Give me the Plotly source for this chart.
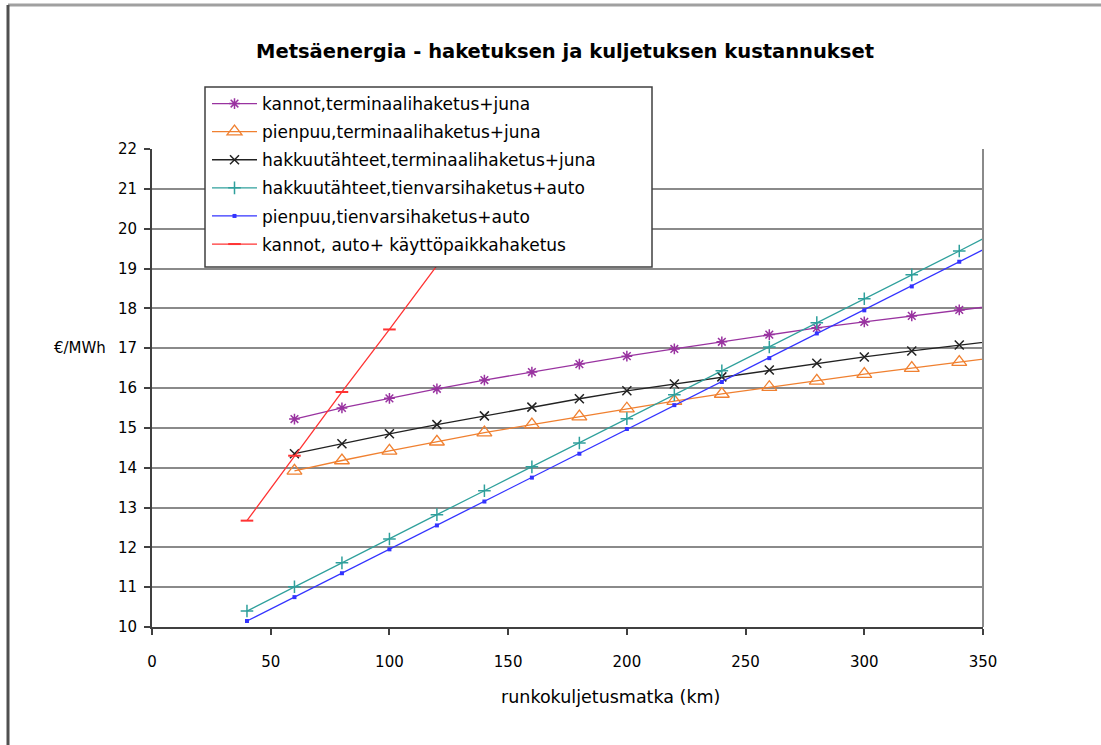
import plotly.graph_objects as go

# Transport distance (km) for each series
dist_terminal = [60, 80, 100, 120, 140, 160, 180, 200, 220, 240, 260, 280, 300, 320, 340, 360]
dist_road = [40, 60, 80, 100, 120, 140, 160, 180, 200, 220, 240, 260, 280, 300, 320, 340, 360]
dist_stumps_truck = [40, 60, 80, 100, 120]

# Costs, €/MWh
kannot_terminaali = [15.22, 15.50, 15.74, 15.98, 16.20, 16.40, 16.60, 16.80, 16.98, 17.16, 17.34, 17.51,
                     17.66, 17.81, 17.96, 18.10]
pienpuu_terminaali = [13.92, 14.18, 14.42, 14.65, 14.88, 15.08, 15.28, 15.48, 15.67, 15.85, 16.02, 16.18,
                      16.35, 16.50, 16.65, 16.80]
hakkuutahteet_terminaali = [14.35, 14.60, 14.85, 15.08, 15.30, 15.52, 15.73, 15.93, 16.10, 16.28, 16.45,
                            16.62, 16.78, 16.93, 17.08, 17.22]
hakkuutahteet_tienvarsi = [10.40, 11.01, 11.61, 12.21, 12.82, 13.42, 14.02, 14.62, 15.23, 15.83, 16.43,
                           17.03, 17.64, 18.24, 18.84, 19.44, 20.05]
pienpuu_tienvarsi = [10.15, 10.75, 11.35, 11.95, 12.55, 13.15, 13.75, 14.35, 14.97, 15.57, 16.15, 16.75,
                     17.37, 17.95, 18.55, 19.17, 19.77]
kannot_kayttopaikka = [12.67, 14.30, 15.90, 17.47, 19.07]

series = [
    ("kannot,terminaalihaketus+juna", dist_terminal, kannot_terminaali, "#9933A0",
     dict(symbol="asterisk-open", size=9, line=dict(width=1.5, color="#9933A0"))),
    ("pienpuu,terminaalihaketus+juna", dist_terminal, pienpuu_terminaali, "#F08030",
     dict(symbol="triangle-up-open", size=13, line=dict(width=1.3, color="#F08030"))),
    ("hakkuutähteet,terminaalihaketus+juna", dist_terminal, hakkuutahteet_terminaali, "#222222",
     dict(symbol="x-thin-open", size=9, line=dict(width=1.5, color="#222222"))),
    ("hakkuutähteet,tienvarsihaketus+auto", dist_road, hakkuutahteet_tienvarsi, "#2FA09C",
     dict(symbol="cross-thin-open", size=9, line=dict(width=1.5, color="#2FA09C"))),
    ("pienpuu,tienvarsihaketus+auto", dist_road, pienpuu_tienvarsi, "#3333FF",
     dict(symbol="square", size=4, color="#3333FF")),
    ("kannot, auto+ käyttöpaikkahaketus", dist_stumps_truck, kannot_kayttopaikka, "#FF3333",
     dict(symbol="line-ew-open", size=9, line=dict(width=2, color="#FF3333"))),
]

fig = go.Figure()
for i, (name, xs, ys, color, marker) in enumerate(series):
    fig.add_trace(go.Scatter(
        x=xs, y=ys, name=name, mode="lines+markers",
        line=dict(color=color, width=1.3),
        marker=marker, cliponaxis=True, legendgroup=f"g{i}",
    ))

# Plot area in pixels: x 152..983, y 149..627
L, R, T, B = 152, 983, 149, 627
W, H = 1101, 745
pw, ph = R - L, B - T


def px(x):
    return (x - L) / pw


def py(y):
    return (B - y) / ph


font = "DejaVu Sans, Verdana, sans-serif"

fig.update_layout(
    width=W, height=H,
    margin=dict(l=L, r=W - R, t=T, b=H - B),
    paper_bgcolor="white", plot_bgcolor="white",
    font=dict(family=font, size=14, color="black"),
    showlegend=True,
    legend=dict(
        x=px(207), y=py(86), xanchor="left", yanchor="top",
        bgcolor="rgba(0,0,0,0)", borderwidth=0,
        font=dict(family=font, size=17, color="black"),
        tracegroupgap=3, traceorder="grouped", itemwidth=45,
    ),
    xaxis=dict(
        range=[0, 350], dtick=50, tick0=0,
        showgrid=False, zeroline=False,
        showline=True, linecolor="#404040", linewidth=2, mirror=False,
        ticks="outside", ticklen=6, tickcolor="#404040", tickwidth=1.5,
        ticklabelstandoff=14,
        tickfont=dict(family=font, size=15, color="black"),
    ),
    yaxis=dict(
        range=[10, 22], dtick=1, tick0=10,
        showgrid=True, gridcolor="#8A8A8A", gridwidth=2,
        zeroline=False,
        showline=True, linecolor="#404040", linewidth=2,
        ticks="outside", ticklen=6, tickcolor="#404040", tickwidth=1.5,
        ticklabelstandoff=4,
        tickfont=dict(family=font, size=15, color="black"),
    ),
)

# Right edge of the plot area and the outer chart frame
fig.add_shape(type="line", xref="paper", yref="paper", x0=1, x1=1, y0=0, y1=1,
              line=dict(color="#8A8A8A", width=2))
fig.add_shape(type="line", xref="paper", yref="paper", x0=px(8), x1=px(W + 5), y0=py(5), y1=py(5),
              line=dict(color="#A0A0A0", width=3))
fig.add_shape(type="line", xref="paper", yref="paper", x0=px(8), x1=px(8), y0=py(5), y1=py(H + 5),
              line=dict(color="#505050", width=3))
# Legend frame (white box drawn over the plot, legend entries sit on top)
fig.add_shape(type="rect", xref="paper", yref="paper", layer="above",
              x0=px(205), x1=px(652), y0=py(87), y1=py(267),
              fillcolor="white", line=dict(color="#404040", width=1.5))

fig.add_annotation(
    text="<b>Metsäenergia - haketuksen ja kuljetuksen kustannukset</b>",
    xref="paper", yref="paper", x=px(565), y=py(52), xanchor="center", yanchor="middle",
    showarrow=False, font=dict(family=font, size=19.5, color="black"),
)
fig.add_annotation(
    text="runkokuljetusmatka (km)",
    xref="paper", yref="paper", x=px(610), y=py(697), xanchor="center", yanchor="middle",
    showarrow=False, font=dict(family=font, size=17.5, color="black"),
)
fig.add_annotation(
    text="€/MWh",
    xref="paper", yref="paper", x=px(80), y=py(348), xanchor="center", yanchor="middle",
    showarrow=False, font=dict(family=font, size=15, color="black"),
)

fig.write_html("out.html")
